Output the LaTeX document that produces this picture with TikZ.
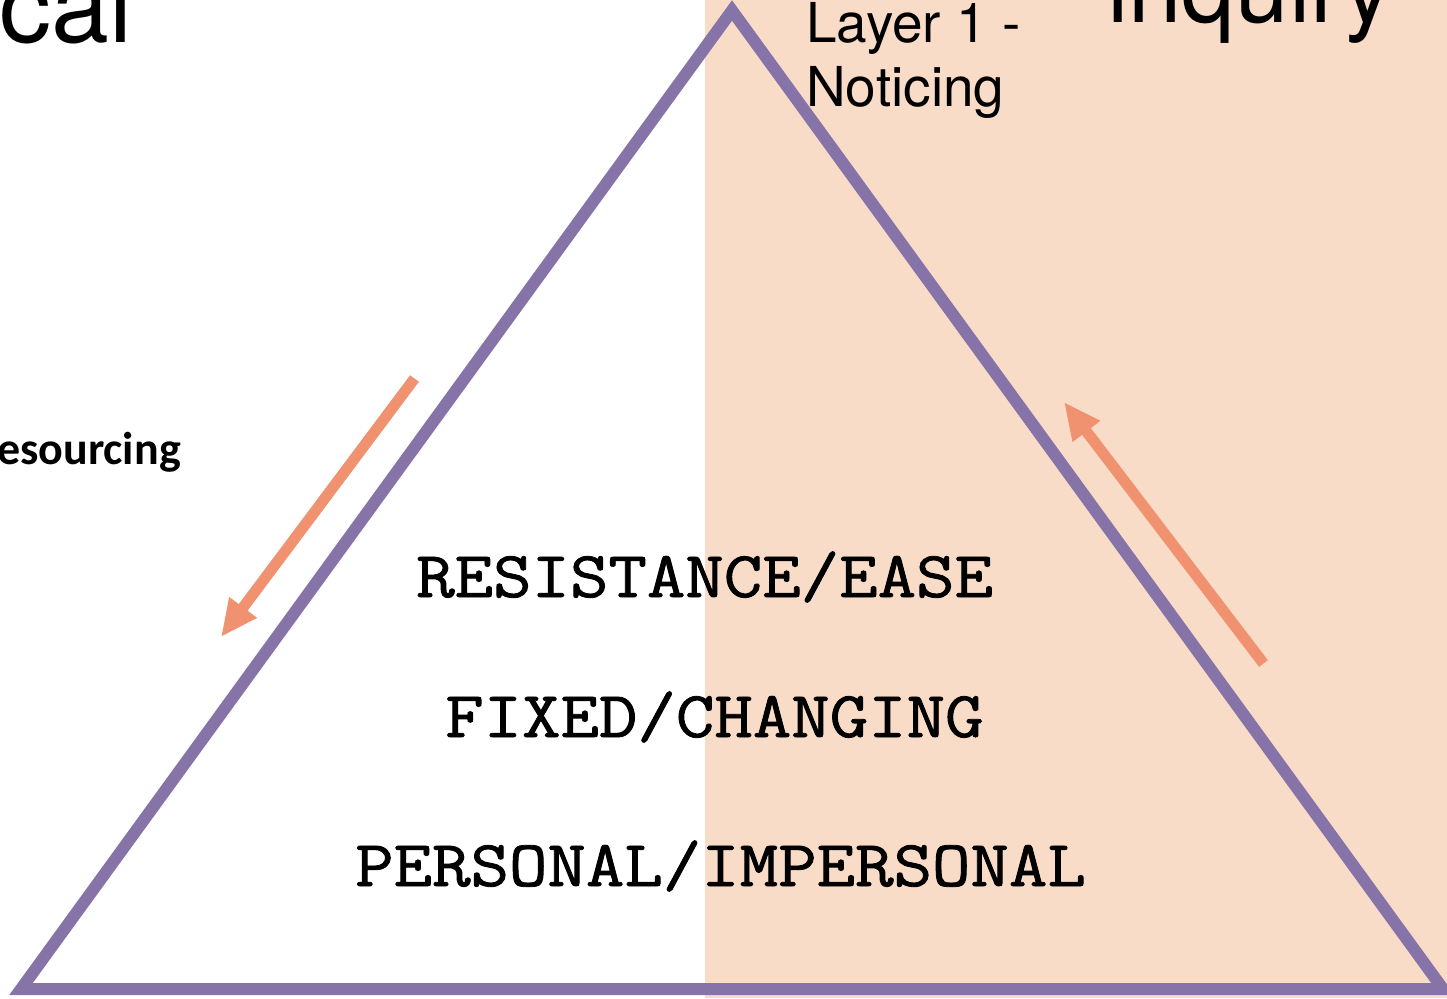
\documentclass[tikz,border=0pt]{standalone}
\usepackage{fontspec}
\setmainfont{TeX Gyre Heros}
\newfontfamily\calibri{Carlito}
\newfontfamily\pairfont{Latin Modern Mono}[FakeBold=1.2]
\usetikzlibrary{arrows.meta}
\definecolor{peach}{HTML}{F9DCC7}
\definecolor{layerpurple}{HTML}{8674A8}
\definecolor{flow}{HTML}{F09270}
\tikzset{
  edge/.style={draw=layerpurple, line width=12pt, line join=miter},
  flowarrow/.style={draw=flow, line width=11pt,
    -{Triangle[length=37pt,width=32pt]}},
  title/.style={anchor=base west, inner sep=0pt, font=\fontsize{104}{110}\selectfont},
  layerlabel/.style={anchor=base west, inner sep=0pt, font=\fontsize{55}{60}\selectfont},
  pair/.style={anchor=base west, inner sep=0pt, font=\pairfont\fontsize{65.5}{70}\selectfont},
  side/.style={anchor=base east, inner sep=0pt, font=\calibri\bfseries\fontsize{46}{50}\selectfont}
}
\newcommand{\widen}[1]{\scalebox{1.14}[1]{#1}}
\begin{document}
\begin{tikzpicture}[x=1pt,y=-1pt]
  \useasboundingbox (0,0) rectangle (1447,998);
  \clip (0,0) rectangle (1447,998);

  % shaded right half
  \fill[peach] (705,0) rectangle (1447,998);

  % headings cut by the page edge
  \node[title] (cal) at (-1,43) {cal};
  \node[title, font=\fontsize{96}{100}\selectfont] (inquiry) at (1107,23) {inquiry};
  \node[side] (resourcing) at (181,464) {esourcing};

  % the layer triangle
  \coordinate (apex) at (732,10.5);
  \coordinate (bl) at (21,989);
  \coordinate (br) at (1443,989);
  \draw[edge] (bl) -- (apex) -- (br) -- cycle;

  % layer label
  \node[layerlabel] (layer) at (806,42) {Layer 1 -};
  \node[layerlabel] (noticing) at (806,106) {Noticing};

  % paired qualities
  \node[pair] (p1) at (416,597) {\widen{RESISTANCE/EASE}};
  \node[pair] (p2) at (445,737) {\widen{FIXED/CHANGING}};
  \node[pair] (p3) at (355,886) {\widen{PERSONAL/IMPERSONAL}};

  % movement along the sides
  \coordinate (downtail) at (414.5,378.5);
  \coordinate (downtip) at (221,637);
  \coordinate (uptail) at (1263.5,663.5);
  \coordinate (uptip) at (1064,402);
  \draw[flowarrow] (downtail) -- (downtip);
  \draw[flowarrow] (uptail) -- (uptip);
\end{tikzpicture}
\end{document}
